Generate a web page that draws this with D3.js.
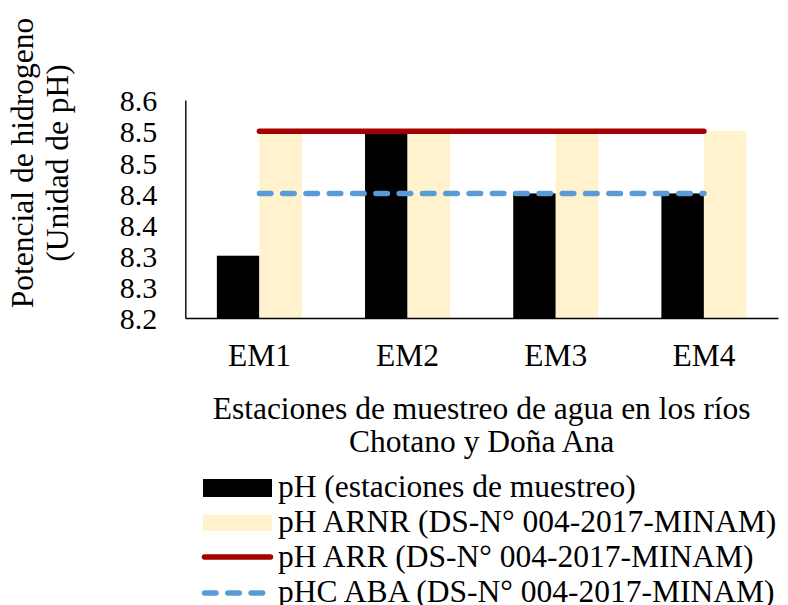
<!DOCTYPE html>
<html>
<head>
<meta charset="utf-8">
<script src="https://cdn.jsdelivr.net/npm/d3@7/dist/d3.min.js"></script>
<style>
  html, body { margin: 0; padding: 0; background: #fff; }
  svg text { font-family: "Liberation Serif", "Times New Roman", Tinos, serif; fill: #000; }
</style>
</head>
<body>
<svg id="chart" width="788" height="605"></svg>
<script>
// Sampling stations
const stations = ["EM1", "EM2", "EM3", "EM4"];
// Measured pH at each station
const phMeasured = [8.3, 8.5, 8.4, 8.4];
// Water-quality standards (DS-N° 004-2017-MINAM)
const phARNR = [8.5, 8.5, 8.5, 8.5];
const phARR = [8.5, 8.5, 8.5, 8.5];
const phABA = [8.4, 8.4, 8.4, 8.4];
// Y axis ticks and their printed labels
const yTickValues = [8.2, 8.25, 8.3, 8.35, 8.4, 8.45, 8.5, 8.55];
const yTickLabels = ["8.2", "8.3", "8.3", "8.4", "8.4", "8.5", "8.5", "8.6"];
// Legend entries
const legendLabels = [
  "pH (estaciones de muestreo)",
  "pH ARNR (DS-N° 004-2017-MINAM)",
  "pH ARR (DS-N° 004-2017-MINAM)",
  "pHC ABA (DS-N° 004-2017-MINAM)"
];

const colors = { ph: "#000000", arnr: "#fff2cc", arr: "#a50000", aba: "#5b9bd5" };
const FONT = 31.5;
const TICK_FONT = 30;

const svg = d3.select("#chart");
const plot = { left: 185.3, right: 778, top: 100, bottom: 318 };

const x0 = d3.scaleBand()
  .domain(stations)
  .range([plot.left, plot.right])
  .paddingInner(0.426)
  .paddingOuter(0.213);

const x1 = d3.scaleBand()
  .domain(["ph", "arnr"])
  .range([0, x0.bandwidth()])
  .padding(0);

const y = d3.scaleLinear()
  .domain([8.2, 8.55])
  .range([plot.bottom, plot.top]);

const rows = stations.map((s, i) => ({
  station: s, ph: phMeasured[i], arnr: phARNR[i], arr: phARR[i], aba: phABA[i]
}));

// Bars
const groups = svg.append("g").selectAll("g")
  .data(rows).join("g")
  .attr("transform", d => `translate(${x0(d.station)},0)`);

groups.selectAll("rect")
  .data(d => ["ph", "arnr"].map(k => ({ key: k, value: d[k] })))
  .join("rect")
  .attr("x", d => x1(d.key))
  .attr("width", x1.bandwidth())
  .attr("y", d => y(d.value))
  .attr("height", d => y(8.2) - y(d.value))
  .attr("fill", d => colors[d.key]);

// Axes
const yAxis = d3.axisLeft(y)
  .tickValues(yTickValues)
  .tickFormat((d, i) => yTickLabels[i])
  .tickSize(0)
  .tickPadding(28);

const gy = svg.append("g")
  .attr("transform", `translate(${plot.left},0)`)
  .call(yAxis);
gy.select(".domain").attr("stroke", "#000").attr("stroke-width", 1.4);
gy.selectAll("text")
  .attr("font-size", TICK_FONT)
  .attr("dy", "0.36em");

const xAxis = d3.axisBottom(x0).tickSize(0).tickPadding(0);
const gx = svg.append("g")
  .attr("transform", `translate(0,${plot.bottom})`)
  .call(xAxis);
gx.select(".domain").attr("stroke", "#000").attr("stroke-width", 1.4);
gx.selectAll("text")
  .attr("font-size", FONT)
  .attr("y", 48)
  .attr("dy", 0);

// Reference lines
const cx = d => x0(d.station) + x0.bandwidth() / 2;

svg.append("path")
  .datum(rows)
  .attr("fill", "none")
  .attr("stroke", colors.aba)
  .attr("stroke-width", 5.5)
  .attr("stroke-linecap", "round")
  .attr("stroke-dasharray", "11.5 11.8")
  .attr("d", d3.line().x(cx).y(d => y(d.aba)));

svg.append("path")
  .datum(rows)
  .attr("fill", "none")
  .attr("stroke", colors.arr)
  .attr("stroke-width", 5.5)
  .attr("stroke-linecap", "round")
  .attr("d", d3.line().x(cx).y(d => y(d.arr)));

// Axis titles
const yTitle = svg.append("g");
[["Potencial de hidrogeno", 33], ["(Unidad de pH)", 68]].forEach(([t, bx]) => {
  yTitle.append("text")
    .attr("transform", `translate(${bx},163) rotate(-90)`)
    .attr("text-anchor", "middle")
    .attr("font-size", FONT)
    .text(t);
});

const xTitle = svg.append("g");
[["Estaciones de muestreo de agua en los ríos", 418.5], ["Chotano y Doña Ana", 452]].forEach(([t, by]) => {
  xTitle.append("text")
    .attr("x", (plot.left + plot.right) / 2)
    .attr("y", by)
    .attr("text-anchor", "middle")
    .attr("font-size", FONT)
    .text(t);
});

// Legend
const legend = svg.append("g");
const legY = [497, 532, 567, 602];
const swX = 203, swW = 69, txtX = 278;

legend.append("rect").attr("x", swX).attr("y", 479).attr("width", swW).attr("height", 18).attr("fill", colors.ph);
legend.append("rect").attr("x", swX).attr("y", 515).attr("width", swW).attr("height", 16).attr("fill", colors.arnr);
legend.append("line")
  .attr("x1", swX + 1.5).attr("x2", swX + swW - 1.5).attr("y1", 557).attr("y2", 557)
  .attr("stroke", colors.arr).attr("stroke-width", 5.5).attr("stroke-linecap", "round");
legend.append("line")
  .attr("x1", swX + 1.5).attr("x2", swX + swW - 5).attr("y1", 593).attr("y2", 593)
  .attr("stroke", colors.aba).attr("stroke-width", 5.5).attr("stroke-linecap", "round")
  .attr("stroke-dasharray", "11.5 11.8");

legend.selectAll("text.leg")
  .data(legendLabels).join("text")
  .attr("class", "leg")
  .attr("x", txtX)
  .attr("y", (d, i) => legY[i])
  .attr("font-size", FONT)
  .text(d => d);
</script>
</body>
</html>
